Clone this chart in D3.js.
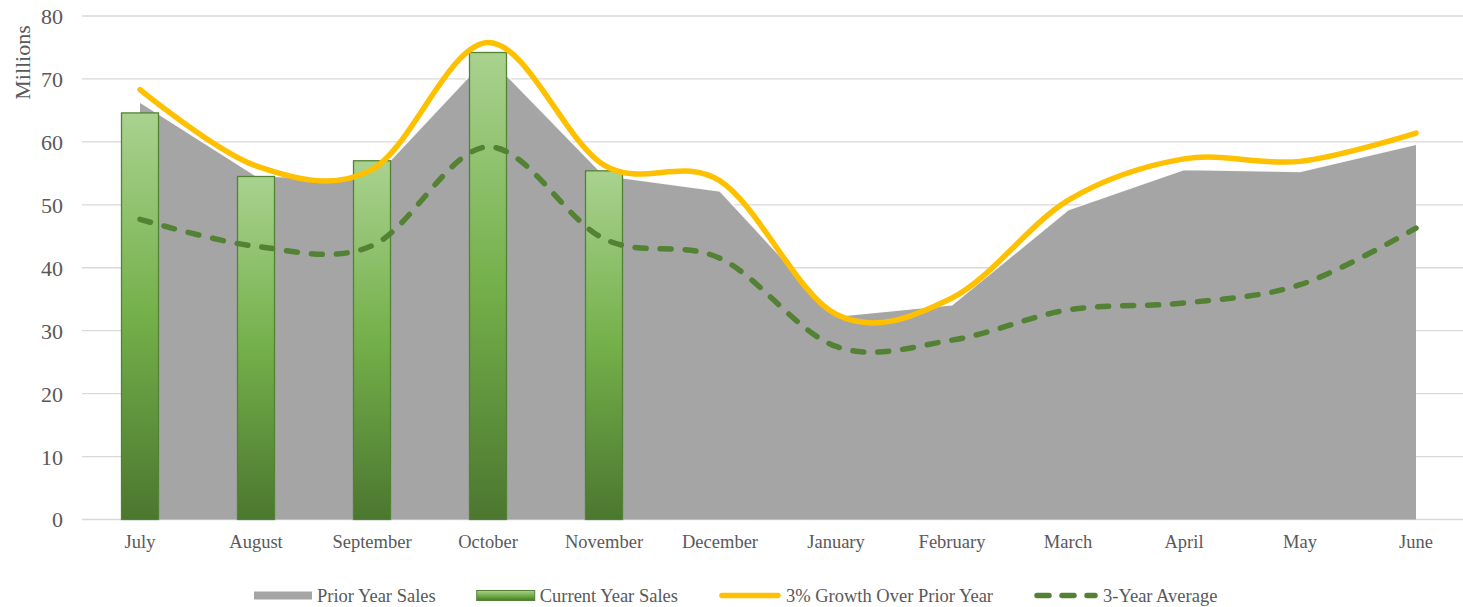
<!DOCTYPE html>
<html>
<head>
<meta charset="utf-8">
<script src="https://cdn.jsdelivr.net/npm/d3@7/dist/d3.min.js"></script>
<style>
  html, body { margin: 0; padding: 0; background: #fff; }
  svg { display: block; }
  text { font-family: "Liberation Serif", "Times New Roman", serif; fill: #595959; }
</style>
</head>
<body>
<svg id="chart" width="1463" height="607"></svg>
<script>
const months = ["July","August","September","October","November","December","January","February","March","April","May","June"];
const priorYear = [66.3, 54.6, 54.0, 73.6, 54.7, 52.2, 32.3, 34.1, 49.2, 55.6, 55.3, 59.6];
const currentYear = [64.6, 54.5, 57.0, 74.2, 55.4];
const growth = [68.3, 56.2, 55.6, 75.8, 56.3, 53.8, 32.6, 35.2, 50.7, 57.3, 56.9, 61.4];
const threeYearAvg = [47.7, 43.4, 43.5, 59.2, 44.6, 41.5, 27.5, 28.5, 33.3, 34.4, 37.3, 46.3];
const yTicks = [0, 10, 20, 30, 40, 50, 60, 70, 80];
const legendLabels = ["Prior Year Sales", "Current Year Sales", "3% Growth Over Prior Year", "3-Year Average"];

(function () {
const svg = d3.select("#chart");
const defs = svg.append("defs");
function addGrad(id) {
  const g = defs.append("linearGradient").attr("id", id)
    .attr("x1", 0).attr("y1", 0).attr("x2", 0).attr("y2", 1);
  g.append("stop").attr("offset", "0%").attr("stop-color", "#a9d28f");
  g.append("stop").attr("offset", "50%").attr("stop-color", "#74b04a");
  g.append("stop").attr("offset", "100%").attr("stop-color", "#4b772f");
}
addGrad("barGrad");
addGrad("legGrad");

const mLeft = 82, mRight = 1474, mTop = 16, mBottom = 519.5;
const x = d3.scaleBand().domain(months).range([mLeft, mRight]).paddingInner(0).paddingOuter(0);
const xc = m => x(m) + x.bandwidth() / 2;
const y = d3.scaleLinear().domain([0, 80]).range([mBottom, mTop]);

// gridlines
svg.append("g").selectAll("line").data(yTicks).join("line")
  .attr("x1", mLeft).attr("x2", mRight)
  .attr("y1", d => y(d)).attr("y2", d => y(d))
  .attr("stroke", "#d9d9d9").attr("stroke-width", 1.3);

// y axis labels
const yAxis = d3.axisLeft(y).tickValues(yTicks).tickSize(0).tickPadding(0);
const yg = svg.append("g").attr("transform", `translate(${mLeft - 19},0)`).call(yAxis);
yg.select(".domain").remove();
yg.selectAll("text").attr("font-size", 22).attr("fill", "#595959")
  .style("font-family", '"Liberation Serif", serif').attr("dy", "0.34em");

svg.append("text").attr("transform", `translate(30,62.5) rotate(-90)`)
  .attr("text-anchor", "middle").attr("font-size", 22).text("Millions");

// x axis labels
const xAxis = d3.axisBottom(x).tickSize(0).tickPadding(0);
const xg = svg.append("g").attr("transform", `translate(0,${mBottom + 15})`).call(xAxis);
xg.select(".domain").remove();
xg.selectAll("text").attr("font-size", 18.5).attr("fill", "#595959")
  .style("font-family", '"Liberation Serif", serif').attr("dy", "0.71em");

// area
const area = d3.area().x((d, i) => xc(months[i])).y0(y(0)).y1(d => y(d));
svg.append("path").datum(priorYear).attr("d", area).attr("fill", "#a5a5a5");
const topLine = d3.line().x((d, i) => xc(months[i])).y(d => y(d));
svg.append("path").datum(priorYear).attr("d", topLine).attr("fill", "none")
  .attr("stroke", "#ffffff").attr("stroke-width", 1.5).attr("opacity", 0.9);

// bars
const bw = 37;
svg.append("g").selectAll("rect").data(currentYear).join("rect")
  .attr("x", (d, i) => xc(months[i]) - bw / 2)
  .attr("width", bw)
  .attr("y", d => y(d))
  .attr("height", d => y(0) - y(d))
  .attr("fill", "url(#barGrad)")
  .attr("stroke", "#548235").attr("stroke-width", 1.3);

// growth line
const smooth = d3.line().x((d, i) => xc(months[i])).y(d => y(d)).curve(d3.curveCardinal.tension(0));
svg.append("path").datum(growth).attr("d", smooth).attr("fill", "none")
  .attr("stroke", "#ffc000").attr("stroke-width", 5.5).attr("stroke-linecap", "round");

// 3-year average
svg.append("path").datum(threeYearAvg).attr("d", smooth).attr("fill", "none")
  .attr("stroke", "#548235").attr("stroke-width", 5.5).attr("stroke-linecap", "round")
  .attr("stroke-dasharray", "11,14");

// legend
const ly = 595.5;
const lg = svg.append("g");
let cx = 254;
legendLabels.forEach((lab, i) => {
  const sw = i === 3 ? 64 : (i === 2 ? 62 : 58);
  if (i === 0) {
    lg.append("rect").attr("x", cx).attr("y", ly - 4).attr("width", sw).attr("height", 8).attr("fill", "#a5a5a5");
  } else if (i === 1) {
    lg.append("rect").attr("x", cx).attr("y", ly - 5).attr("width", sw).attr("height", 10)
      .attr("fill", "url(#legGrad)").attr("stroke", "#548235").attr("stroke-width", 1);
  } else if (i === 2) {
    lg.append("line").attr("x1", cx + 3).attr("x2", cx + sw - 3).attr("y1", ly).attr("y2", ly)
      .attr("stroke", "#ffc000").attr("stroke-width", 5.5).attr("stroke-linecap", "round");
  } else {
    lg.append("line").attr("x1", cx + 3).attr("x2", cx + sw - 3).attr("y1", ly).attr("y2", ly)
      .attr("stroke", "#548235").attr("stroke-width", 5.5).attr("stroke-linecap", "round")
      .attr("stroke-dasharray", "12,13");
  }
  const t = lg.append("text").attr("x", cx + sw + 5).attr("y", ly).attr("dy", "0.34em")
    .attr("font-size", 18.5).text(lab);
  cx = cx + sw + 5 + t.node().getComputedTextLength() + 41;
});
})();
</script>
</body>
</html>
